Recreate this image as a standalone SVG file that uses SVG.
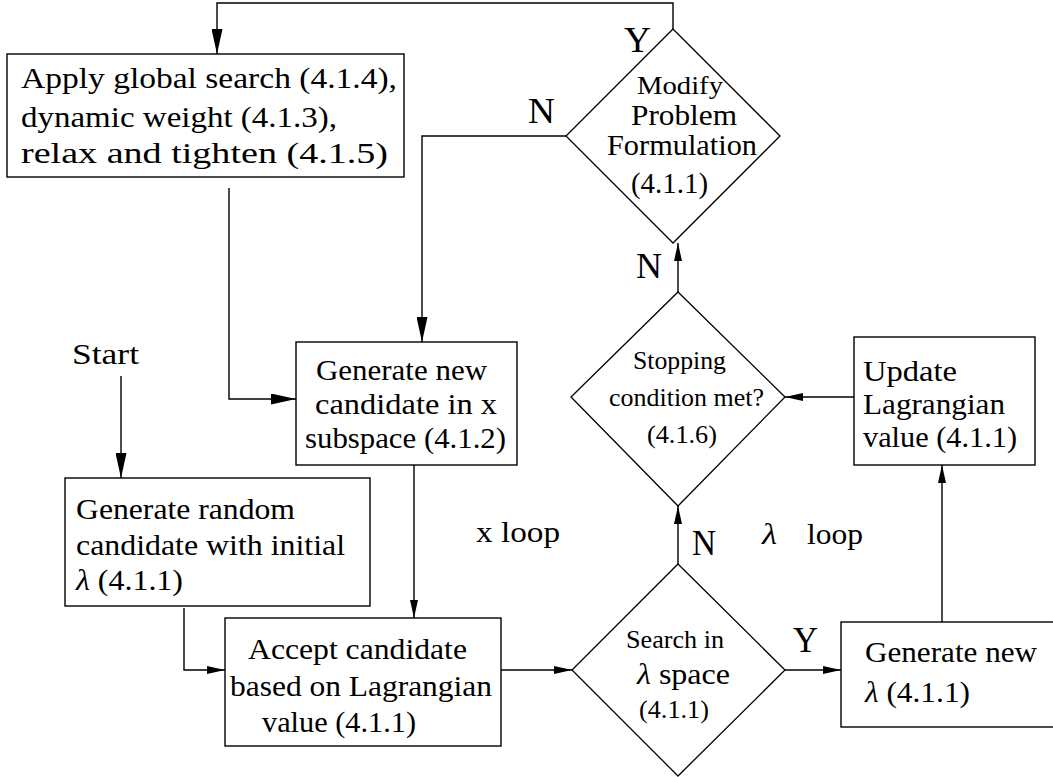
<svg xmlns="http://www.w3.org/2000/svg" width="1053" height="777" viewBox="0 0 1053 777">
<style>
  .box { fill: #ffffff; stroke: #000000; stroke-width: 1.4; }
  .dia { fill: #ffffff; stroke: #000000; stroke-width: 1.3; }
  .cm { font-family: "Liberation Serif", "Times New Roman", serif; font-size: 30px; fill: #000000; }
  .tm { font-family: "Liberation Serif", "Times New Roman", serif; font-size: 26px; fill: #000000; }
  .lbl { font-family: "Liberation Serif", "Times New Roman", serif; font-size: 36px; fill: #000000; }
  .it { font-style: italic; }
  .conn { fill: none; stroke: #000000; stroke-width: 1.4; }
  .big { marker-end: url(#arrowBig); }
  .small { marker-end: url(#arrowSmall); }
</style>
<defs>
  <marker id="arrowBig" viewBox="0 0 25 11" refX="25" refY="5.5" markerWidth="25" markerHeight="11" markerUnits="userSpaceOnUse" orient="auto">
    <path d="M0,0 L25,5.5 L0,11 z" fill="#000000"/>
  </marker>
  <marker id="arrowSmall" viewBox="0 0 18 8" refX="18" refY="4" markerWidth="18" markerHeight="8" markerUnits="userSpaceOnUse" orient="auto">
    <path d="M0,0 L18,4 L0,8 z" fill="#000000"/>
  </marker>
</defs>
<rect width="1053" height="777" fill="#ffffff"/>

<g id="connectors">
  <path class="conn big" d="M673,29 V3 H217 V54"/>
  <path class="conn big" d="M229,188 V399 H296"/>
  <path class="conn big" d="M566,136 H422 V342"/>
  <path class="conn big" d="M121,376 V478"/>
  <path class="conn small" d="M184,608 V670 H225"/>
  <path class="conn small" d="M414,465 V618"/>
  <path class="conn small" d="M501,670 H572"/>
  <path class="conn small" d="M785,670 H841"/>
  <path class="conn small" d="M942,622 V465"/>
  <path class="conn small" d="M854,397 H785"/>
  <path class="conn small" d="M678,564 V506"/>
  <path class="conn small" d="M678,292 V243"/>
</g>

<g id="node-apply-global">
  <rect class="box" x="7" y="54" width="397" height="123"/>
  <text class="cm" x="21" y="88" textLength="376" lengthAdjust="spacingAndGlyphs">Apply global search (4.1.4),</text>
  <text class="cm" x="21" y="127" textLength="316" lengthAdjust="spacingAndGlyphs">dynamic weight (4.1.3),</text>
  <text class="cm" x="21" y="163" textLength="367" lengthAdjust="spacingAndGlyphs">relax and tighten (4.1.5)</text>
</g>

<g id="node-modify">
  <polygon class="dia" points="673,29 780,136 673,243 566,136"/>
  <text class="tm" x="637" y="94" textLength="86" lengthAdjust="spacingAndGlyphs">Modify</text>
  <text class="cm" x="631" y="125" textLength="106" lengthAdjust="spacingAndGlyphs">Problem</text>
  <text class="cm" x="607" y="155" textLength="150" lengthAdjust="spacingAndGlyphs">Formulation</text>
  <text class="cm" x="631" y="193" textLength="77" lengthAdjust="spacingAndGlyphs">(4.1.1)</text>
</g>

<g id="node-stopping">
  <polygon class="dia" points="678,292 785,397 678,506 571,397"/>
  <text class="tm" x="633" y="369" textLength="93" lengthAdjust="spacingAndGlyphs">Stopping</text>
  <text class="tm" x="609" y="406" textLength="155" lengthAdjust="spacingAndGlyphs">condition met?</text>
  <text class="tm" x="647" y="443" textLength="70" lengthAdjust="spacingAndGlyphs">(4.1.6)</text>
</g>

<g id="node-update">
  <rect class="box" x="854" y="337" width="181" height="128"/>
  <text class="cm" x="863" y="381" textLength="94" lengthAdjust="spacingAndGlyphs">Update</text>
  <text class="cm" x="863" y="414" textLength="142" lengthAdjust="spacingAndGlyphs">Lagrangian</text>
  <text class="cm" x="863" y="447" textLength="154" lengthAdjust="spacingAndGlyphs">value (4.1.1)</text>
</g>

<g id="node-generate-candidate">
  <rect class="box" x="296" y="342" width="221" height="123"/>
  <text class="cm" x="316" y="380" textLength="171" lengthAdjust="spacingAndGlyphs">Generate new</text>
  <text class="cm" x="315" y="414" textLength="182" lengthAdjust="spacingAndGlyphs">candidate in x</text>
  <text class="cm" x="305" y="448" textLength="201" lengthAdjust="spacingAndGlyphs">subspace (4.1.2)</text>
</g>

<g id="node-start">
  <text class="cm" x="72" y="364" textLength="67" lengthAdjust="spacingAndGlyphs">Start</text>
</g>

<g id="node-generate-random">
  <rect class="box" x="65" y="478" width="305" height="128"/>
  <text class="cm" x="76" y="519" textLength="219" lengthAdjust="spacingAndGlyphs">Generate random</text>
  <text class="cm" x="76" y="555" textLength="269" lengthAdjust="spacingAndGlyphs">candidate with initial</text>
  <text class="cm" x="76" y="590" textLength="107" lengthAdjust="spacingAndGlyphs"><tspan class="it">λ</tspan> (4.1.1)</text>
</g>

<g id="node-accept">
  <rect class="box" x="225" y="618" width="276" height="128"/>
  <text class="cm" x="248" y="659" textLength="219" lengthAdjust="spacingAndGlyphs">Accept candidate</text>
  <text class="cm" x="230" y="696" textLength="262" lengthAdjust="spacingAndGlyphs">based on Lagrangian</text>
  <text class="cm" x="262" y="732" textLength="154" lengthAdjust="spacingAndGlyphs">value (4.1.1)</text>
</g>

<g id="node-search">
  <polygon class="dia" points="678,564 785,670 678,776 572,670"/>
  <text class="tm" x="626" y="648" textLength="98" lengthAdjust="spacingAndGlyphs">Search in</text>
  <text class="cm" x="637" y="684" textLength="93" lengthAdjust="spacingAndGlyphs"><tspan class="it">λ</tspan> space</text>
  <text class="tm" x="639" y="718" textLength="70" lengthAdjust="spacingAndGlyphs">(4.1.1)</text>
</g>

<g id="node-generate-lambda">
  <rect class="box" x="841" y="622" width="214" height="105"/>
  <text class="cm" x="865" y="662" textLength="172" lengthAdjust="spacingAndGlyphs">Generate new</text>
  <text class="cm" x="865" y="702" textLength="105" lengthAdjust="spacingAndGlyphs"><tspan class="it">λ</tspan> (4.1.1)</text>
</g>

<g id="labels">
  <text class="lbl" x="624" y="52" textLength="27" lengthAdjust="spacingAndGlyphs">Y</text>
  <text class="lbl" x="528" y="123" textLength="27" lengthAdjust="spacingAndGlyphs">N</text>
  <text class="lbl" x="636" y="278" textLength="26" lengthAdjust="spacingAndGlyphs">N</text>
  <text class="lbl" x="692" y="555" textLength="24" lengthAdjust="spacingAndGlyphs">N</text>
  <text class="lbl" x="793" y="652" textLength="25" lengthAdjust="spacingAndGlyphs">Y</text>
  <text class="cm" x="476" y="542" textLength="84" lengthAdjust="spacingAndGlyphs">x loop</text>
  <text class="cm it" x="762" y="544" textLength="15" lengthAdjust="spacingAndGlyphs">λ</text>
  <text class="cm" x="807" y="544" textLength="56" lengthAdjust="spacingAndGlyphs">loop</text>
</g>
</svg>
